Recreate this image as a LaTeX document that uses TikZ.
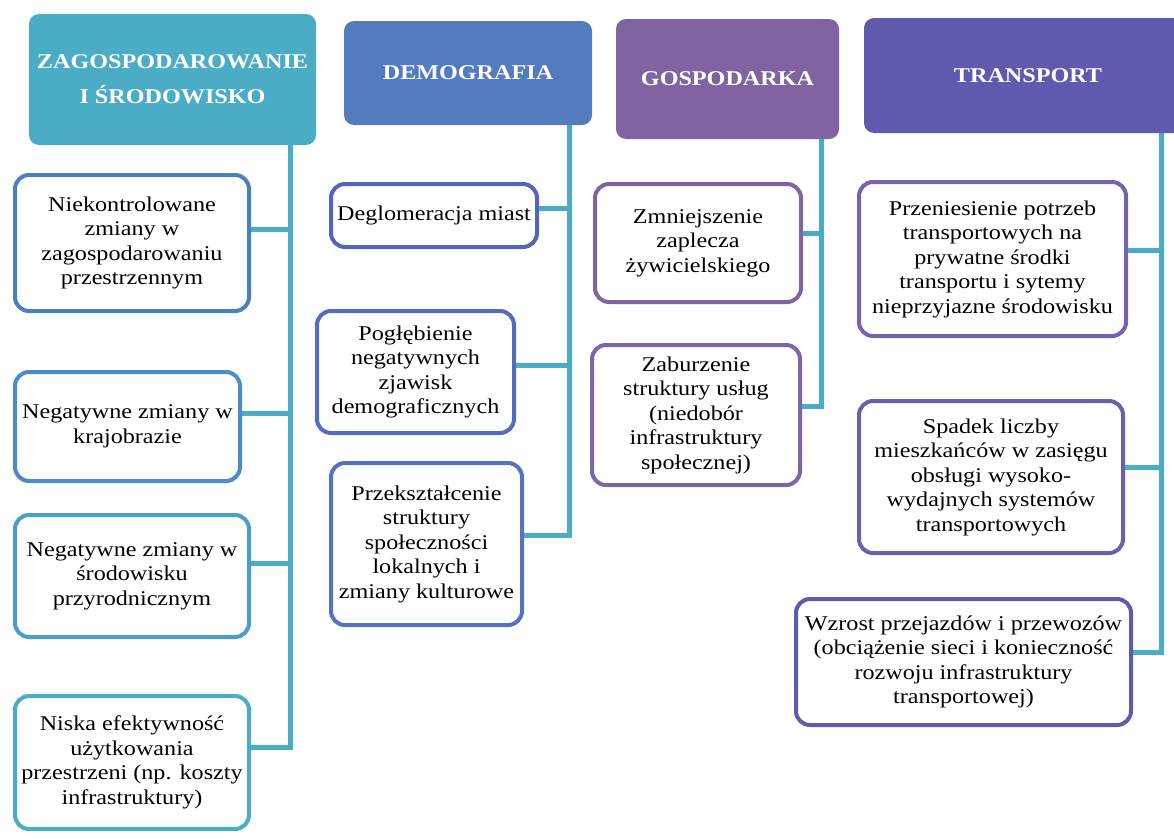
\documentclass[tikz,border=0pt]{standalone}
\usepackage{fontspec}
\setmainfont{Liberation Serif}[FakeStretch=1.15]
\usepackage{tikz}
\usetikzlibrary{positioning}

\definecolor{trunk}{HTML}{4BACC6}
\definecolor{headA}{HTML}{4BACC6}
\definecolor{headB}{HTML}{537BBD}
\definecolor{headC}{HTML}{8064A2}
\definecolor{headD}{HTML}{5F5AAE}
\definecolor{rimA}{HTML}{4A80C0}
\definecolor{rimB}{HTML}{4A8CC4}
\definecolor{rimC}{HTML}{48A0C8}
\definecolor{rimD}{HTML}{4BACC6}
\definecolor{rimE}{HTML}{5563B8}
\definecolor{rimF}{HTML}{546CBD}
\definecolor{rimG}{HTML}{5373C0}
\definecolor{rimH}{HTML}{8064A2}
\definecolor{rimI}{HTML}{7A66A6}
\definecolor{rimJ}{HTML}{7662AD}
\definecolor{rimK}{HTML}{6B5EAD}
\definecolor{rimL}{HTML}{5F5AAE}

\begin{document}
\begin{tikzpicture}[
  x=1pt, y=-1pt,
  header/.style={rounded corners=10pt, text=white, align=center, inner sep=2pt,
    font=\fontsize{21}{35}\selectfont\bfseries},
  item/.style={draw, line width=4pt, rounded corners=14pt, fill=white, align=center,
    inner sep=2pt, font=\fontsize{21}{24.5}\selectfont},
  link/.style={draw=trunk, line width=5pt}
]
\fill[white] (0,0) rectangle (1174,838);
\useasboundingbox (0,0) rectangle (1174,838);

% headers
\node[header, fill=headA, minimum width=287pt, minimum height=131pt] (hzag) at (172.5,79.5)
  {ZAGOSPODAROWANIE\\I ŚRODOWISKO};
\node[header, fill=headB, minimum width=248pt, minimum height=104pt] (hdem) at (468,73) {DEMOGRAFIA};
\node[header, fill=headC, minimum width=223pt, minimum height=120pt] (hgos) at (727.5,79) {GOSPODARKA};
\node[header, fill=headD, minimum width=328pt, minimum height=115pt] (htra) at (1028,75.5) {TRANSPORT};

% trunk tops
\coordinate (zzag) at ([xshift=-26pt]hzag.south east);
\coordinate (zdem) at ([xshift=-23pt]hdem.south east);
\coordinate (zgos) at ([xshift=-18pt]hgos.south east);
\coordinate (ztra) at ([xshift=-31pt]htra.south east);

% zagospodarowanie
\node[item, draw=rimA, minimum width=234pt, minimum height=136pt] (zag1) at (132,243)
  {Niekontrolowane\\zmiany w\\zagospodarowaniu\\przestrzennym};
\node[item, draw=rimB, minimum width=225pt, minimum height=109pt] (zag2) at (127.5,426.5)
  {Negatywne zmiany w\\krajobrazie};
\node[item, draw=rimC, minimum width=234pt, minimum height=122pt] (zag3) at (132,576)
  {Negatywne zmiany w\\środowisku\\przyrodnicznym};
\node[item, draw=rimD, minimum width=234pt, minimum height=133pt] (zag4) at (132,762.5)
  {Niska efektywność\\użytkowania\\przestrzeni (np. koszty\\infrastruktury)};

% demografia
\node[item, draw=rimE, minimum width=206pt, minimum height=63pt] (dem1) at (434,215.5)
  {Deglomeracja miast};
\node[item, draw=rimF, minimum width=197pt, minimum height=122pt] (dem2) at (415.5,372)
  {Pogłębienie\\negatywnych\\zjawisk\\demograficznych};
\node[item, draw=rimG, minimum width=191pt, minimum height=162pt] (dem3) at (426.5,544)
  {Przekształcenie\\struktury\\społeczności\\lokalnych i\\zmiany kulturowe};

% gospodarka
\node[item, draw=rimH, minimum width=206pt, minimum height=118pt] (gos1) at (698,243)
  {Zmniejszenie\\zaplecza\\żywicielskiego};
\node[item, draw=rimI, minimum width=208pt, minimum height=140pt] (gos2) at (696,415)
  {Zaburzenie\\struktury usług\\(niedobór\\infrastruktury\\społecznej)};

% transport
\node[item, draw=rimJ, minimum width=267pt, minimum height=154pt] (tra1) at (992.5,259)
  {Przeniesienie potrzeb\\transportowych na\\prywatne środki\\transportu i sytemy\\nieprzyjazne środowisku};
\node[item, draw=rimK, minimum width=264pt, minimum height=152pt] (tra2) at (991,477)
  {Spadek liczby\\mieszkańców w zasięgu\\obsługi wysoko-\\wydajnych systemów\\transportowych};
\node[item, draw=rimL, minimum width=335pt, minimum height=126pt] (tra3) at (963.5,662)
  {Wzrost przejazdów i przewozów\\(obciążenie sieci i konieczność\\rozwoju infrastruktury\\transportowej)};

% connectors
\draw[link] ([yshift=14pt]zag1.east) -| (zzag);
\draw[link] ([yshift=13pt]zag2.east) -| (zzag);
\draw[link] ([yshift=13pt]zag3.east) -| (zzag);
\draw[link] ([yshift=15pt]zag4.east) -| (zzag);
\draw[link] ([yshift=7pt]dem1.east) -| (zdem);
\draw[link] ([yshift=7pt]dem2.east) -| (zdem);
\draw[link] ([yshift=9pt]dem3.east) -| (zdem);
\draw[link] ([yshift=10pt]gos1.east) -| (zgos);
\draw[link] ([yshift=9pt]gos2.east) -| (zgos);
\draw[link] ([yshift=9pt]tra1.east) -| (ztra);
\draw[link] ([yshift=10pt]tra2.east) -| (ztra);
\draw[link] ([yshift=10pt]tra3.east) -| (ztra);
\end{tikzpicture}
\end{document}
